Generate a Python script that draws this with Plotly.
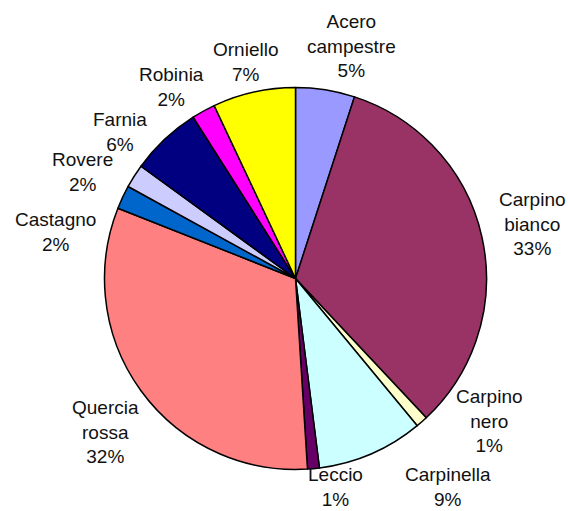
import plotly.graph_objects as go

# Species share of the stand (percent), listed clockwise from 12 o'clock
species = ["Acero campestre", "Carpino bianco", "Carpino nero", "Carpinella",
           "Leccio", "Quercia rossa", "Castagno", "Rovere", "Farnia",
           "Robinia", "Orniello"]
shares = [5, 33, 1, 9, 1, 32, 2, 2, 6, 2, 7]
colors = ["#9999FF", "#993366", "#FFFFCC", "#CCFFFF", "#660066", "#FF8080",
          "#0066CC", "#CCCCFF", "#000080", "#FF00FF", "#FFFF00"]

W, H = 568, 511

# Label block centres in pixels (layout only)
label_pos = [(351, 46), (532, 224), (489, 421), (448, 487), (335, 487),
             (105, 432), (55, 232), (82, 172), (120, 132), (171, 87), (245, 62)]

# Pie placement in pixels
cx, cy, r = 295.5, 278.5, 191

fig = go.Figure(go.Pie(
    labels=species,
    values=shares,
    sort=False,
    direction="clockwise",
    rotation=0,
    textinfo="none",
    hoverinfo="label+percent",
    marker=dict(colors=colors, line=dict(color="#000000", width=1.5)),
    domain=dict(x=[(cx - r) / W, (cx + r) / W],
                y=[1 - (cy + r) / H, 1 - (cy - r) / H]),
))

annotations = []
for name, val, (px, py) in zip(species, shares, label_pos):
    text = "<br>".join(name.split(" ")) + f"<br>{val}%"
    annotations.append(dict(
        text=text, x=px / W, y=1 - py / H, xref="paper", yref="paper",
        xanchor="center", yanchor="middle", showarrow=False, align="center",
        font=dict(family="Liberation Sans, Arial, sans-serif", size=19,
                  color="#111111"),
    ))

fig.update_layout(
    width=W, height=H,
    margin=dict(l=0, r=0, t=0, b=0),
    paper_bgcolor="#FFFFFF",
    plot_bgcolor="#FFFFFF",
    showlegend=False,
    annotations=annotations,
)

fig.write_html("out.html")
